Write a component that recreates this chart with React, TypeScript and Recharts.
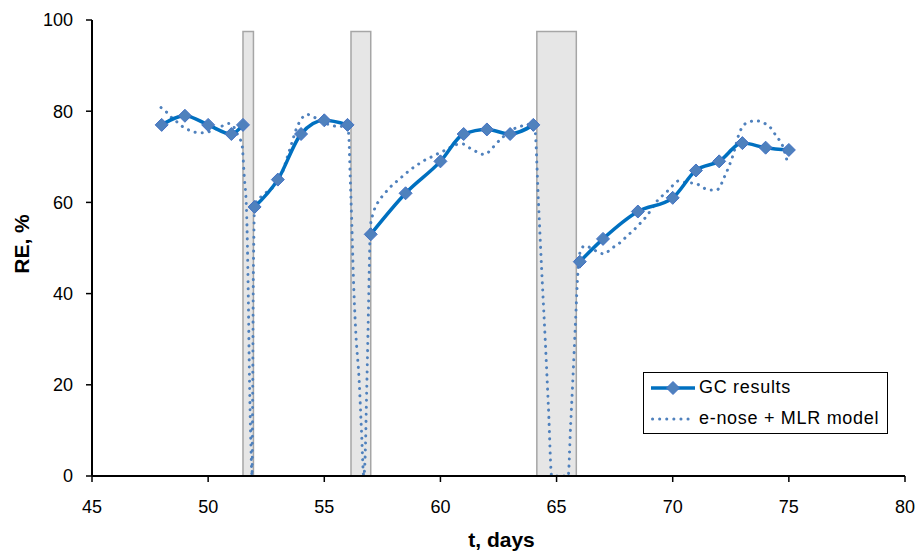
import React from 'react';
import { LineChart, Line, XAxis, YAxis, ReferenceArea, Legend } from 'recharts';

const FONT = '"Liberation Sans", Arial, Helvetica, sans-serif';

const xTicks = [45, 50, 55, 60, 65, 70, 75, 80];
const yTicks = [0, 20, 40, 60, 80, 100];

// shaded interruption periods (start day, end day)
const gapStart = [51.5, 56.15, 64.15];
const gapEnd = [51.95, 57.0, 65.85];
const gapTop = 97.5;

// legend order
const legendOrder = ['GC results', 'e-nose + MLR model'];

// GC results (null = break in the line)
const gcDays = [48, 49, 50, 51, 51.5, 51.75, 52, 53, 54, 55, 56, 56.5, 57, 58.5, 60, 61, 62, 63, 64, 65, 66, 67, 68.5, 70, 71, 72, 73, 74, 75];
const gcRE = [77, 79, 77, 75, 77, null, 59, 65, 75, 78, 77, null, 53, 62, 69, 75, 76, 75, 77, null, 47, 52, 58, 61, 67, 69, 73, 72, 71.5];

// e-nose + MLR model
const enoseDays = [
  47.97, 48.21, 48.43, 48.67, 48.93, 49.25, 49.58, 49.9, 50.2, 50.54, 50.87, 51.05, 51.2, 51.34, 51.46, 51.55, 51.66, 51.72, 51.78, 51.84, 51.89,
  51.92, 51.94, 51.97, 52.0, 52.37, 52.63, 52.95, 53.16, 53.38, 53.6, 53.78, 54.03, 54.24, 54.56, 54.93, 55.32, 55.65, 55.96,
  56.05, 56.11, 56.18, 56.25, 56.35, 56.5, 56.6, 56.7, 56.77, 56.81, 56.85, 56.9, 56.94, 56.97, 57.0,
  57.08, 57.33, 57.54, 57.76, 57.97, 58.19, 58.43, 58.69, 59.0, 59.34, 59.62, 59.98, 60.27, 60.63, 60.96, 61.27, 61.56, 61.87, 62.13, 62.35, 62.71, 63.07, 63.42, 63.71, 64.0,
  64.07, 64.22, 64.36, 64.51, 64.65, 64.79, 65.5, 65.6, 65.7, 65.8, 65.9, 65.96, 66.05,
  66.22, 66.51, 66.82, 67.04, 67.3, 67.59, 67.8, 68.04, 68.28, 68.52, 68.73, 68.95, 69.31, 69.52, 69.74, 70.0, 70.24, 70.6, 70.96, 71.32, 71.6, 71.89, 72.03, 72.2, 72.39, 72.6, 72.89, 73.25, 73.58, 73.97, 74.26, 74.47, 74.69, 74.95,
];
const enoseRE = [
  80.8, 79.8, 78.6, 77.6, 76.5, 75.7, 75.3, 75.3, 75.9, 76.6, 77.3, 77.0, 75.5, 74.2, 72.6, 66, 57, 42, 21, 7, 0,
  20, 40, 53, 59.5, 61.6, 62.7, 64, 66, 69.5, 73, 75.9, 78.4, 79.3, 78.7, 77.6, 76.9, 76.6, 77,
  75, 66.4, 56, 44, 32, 21, 10, 0, 6, 15, 24, 36, 46, 53, 55.4,
  57.2, 60.2, 61.6, 62.9, 64, 64.9, 66, 67.1, 68.2, 69.3, 70, 70.9, 71.6, 72.6, 72.8, 71.9, 71.1, 70.5, 71.3, 72.6, 74.4, 75.9, 76.6, 77.1, 77,
  76, 60, 45, 30, 15, 0, 0, 10.5, 21, 32, 43, 47.5, 49.6,
  50.5, 49.9, 49, 48.7, 49.6, 50.7, 51.4, 52.7, 53.7, 55, 56.1, 57.5, 60.2, 61.3, 62.3, 63.7, 64.7, 64.3, 64.2, 63.2, 62.7, 62.7, 63.4, 65.3, 67.5, 70.4, 75.5, 77.6, 77.9, 77.3, 76.1, 74.4, 72.9, 68.6,
];

const gcData = gcDays.map((x, i) => ({ x, y: gcRE[i] }));
const enoseData = enoseDays.map((x, i) => ({ x, y: enoseRE[i] }));

const GC_LINE = '#0070c0';
const GC_MARK = '#4f81bd';
const ENOSE = '#4f81bd';

function Diamond(props: any) {
  const { cx, cy, index, value } = props;
  if (cx == null || cy == null || value == null || Number.isNaN(cy)) return <g key={`d-${index}`} />;
  const r = 6.5;
  return (
    <polygon
      key={`d-${index}`}
      points={`${cx},${cy - r} ${cx + r},${cy} ${cx},${cy + r} ${cx - r},${cy}`}
      fill={GC_MARK}
      stroke="#4472c4"
      strokeWidth={1}
    />
  );
}

function LegendContent(props: any) {
  const payload = [...(props.payload || [])].sort(
    (a: any, b: any) => legendOrder.indexOf(a.value) - legendOrder.indexOf(b.value)
  );
  return (
    <div
      style={{
        border: '1px solid #000',
        background: '#fff',
        width: 243,
        height: 60,
        fontFamily: FONT,
        fontSize: 18,
        letterSpacing: 0.7,
        color: '#000',
      }}
    >
      {payload.map((entry: any, i: number) => {
        const isGC = entry.value === 'GC results';
        return (
          <div key={i} style={{ display: 'flex', alignItems: 'center', height: 31, marginTop: i === 0 ? -1 : 0 }}>
            <svg width={44} height={16} style={{ marginLeft: 7, marginRight: 4, overflow: 'visible' }}>
              {isGC ? (
                <g>
                  <line x1={0} y1={8} x2={44} y2={8} stroke={GC_LINE} strokeWidth={3.5} />
                  <polygon points="22,1.5 28.5,8 22,14.5 15.5,8" fill={GC_MARK} stroke="#4472c4" strokeWidth={1} />
                </g>
              ) : (
                <line x1={1.5} y1={8} x2={43} y2={8} stroke={ENOSE} strokeWidth={3} strokeDasharray="0.1 7" strokeLinecap="round" />
              )}
            </svg>
            <span style={{ whiteSpace: 'nowrap' }}>{entry.value}</span>
          </div>
        );
      })}
    </div>
  );
}

export default function App() {
  return (
    <div style={{ position: 'absolute', left: 0, top: 0, width: 915, height: 552, background: '#fff' }}>
      <LineChart width={915} height={552} margin={{ top: 20, right: 10, left: 0, bottom: 0 }} style={{ fontFamily: FONT }}>
        <XAxis
          type="number"
          dataKey="x"
          domain={[45, 80]}
          ticks={xTicks}
          allowDataOverflow
          height={76}
          tickSize={6}
          tickMargin={18}
          axisLine={{ stroke: '#000', strokeWidth: 2 }}
          tickLine={{ stroke: '#000', strokeWidth: 1.5 }}
          tick={{ fontSize: 18, fill: '#000', fontFamily: FONT }}
          label={{
            content: (p: any) => {
              const vb = p.viewBox || { x: 92, y: 476, width: 813, height: 76 };
              return (
                <text
                  x={vb.x + vb.width / 2 + 3}
                  y={vb.y + vb.height - 5}
                  textAnchor="middle"
                  fontSize={21}
                  fontWeight="bold"
                  fill="#000"
                  fontFamily={FONT}
                >
                  t, days
                </text>
              );
            },
          }}
        />
        <YAxis
          type="number"
          dataKey="y"
          domain={[0, 100]}
          ticks={yTicks}
          allowDataOverflow
          width={92}
          tickSize={6}
          tickMargin={13}
          axisLine={{ stroke: '#000', strokeWidth: 2 }}
          tickLine={{ stroke: '#000', strokeWidth: 1.5 }}
          tick={{ fontSize: 18, fill: '#000', fontFamily: FONT }}
          label={{
            content: () => (
              <text
                x={21}
                y={244}
                transform="rotate(-90, 21, 244)"
                textAnchor="middle"
                dominantBaseline="central"
                fontSize={21}
                fontWeight="bold"
                fill="#000"
                fontFamily={FONT}
              >
                RE, %
              </text>
            ),
          }}
        />
        {gapStart.map((s, i) => (
          <ReferenceArea
            key={`gap-${i}`}
            x1={s}
            x2={gapEnd[i]}
            y1={0}
            y2={gapTop}
            fill="#e6e6e6"
            fillOpacity={1}
            stroke="#a6a6a6"
            strokeWidth={1.5}
          />
        ))}
        <Line
          data={enoseData}
          dataKey="y"
          name="e-nose + MLR model"
          type="monotone"
          stroke={ENOSE}
          strokeWidth={3}
          strokeDasharray="0.1 7"
          strokeLinecap="round"
          dot={false}
          activeDot={false}
          isAnimationActive={false}
          legendType="line"
        />
        <Line
          data={gcData}
          dataKey="y"
          name="GC results"
          type="monotone"
          stroke={GC_LINE}
          strokeWidth={3.5}
          dot={Diamond}
          activeDot={false}
          connectNulls={false}
          isAnimationActive={false}
          legendType="diamond"
        />
        <Legend
          layout="horizontal"
          verticalAlign="middle"
          align="center"
          content={LegendContent}
          wrapperStyle={{ left: 643, top: 372, width: 245, height: 62 }}
        />
      </LineChart>
    </div>
  );
}
